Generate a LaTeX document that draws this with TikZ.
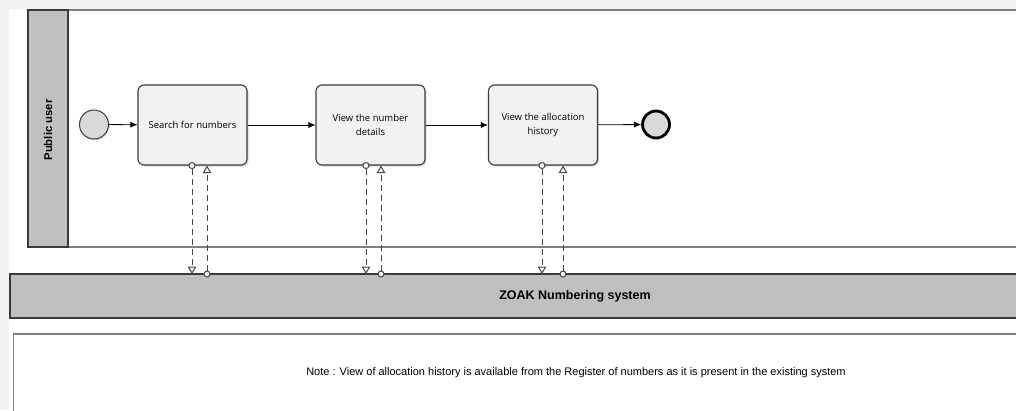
\documentclass[tikz,border=0pt]{standalone}
\usepackage{fontspec}
\setmainfont{Liberation Sans}
\newfontfamily\taskfont{Open Sans}
\usetikzlibrary{arrows.meta,shadows}

\definecolor{pagegray}{HTML}{F2F2F2}
\definecolor{lanegray}{HTML}{BFBFBF}
\definecolor{taskfill}{HTML}{F2F2F2}
\definecolor{eventfill}{HTML}{D9D9D9}
\definecolor{darkline}{HTML}{3A3A3A}
\definecolor{midline}{HTML}{7F7F7F}
\definecolor{msgline}{HTML}{454545}

\tikzset{
  task/.style={rectangle, rounded corners=6pt, draw=darkline, line width=1.1pt,
    fill=taskfill, minimum width=109pt, minimum height=80pt, align=center,
    font=\taskfont\fontsize{9.5}{14}\selectfont, inner sep=2pt,
    drop shadow={shadow xshift=1.5pt, shadow yshift=-1.5pt, opacity=0.3}},
  startevent/.style={circle, draw=darkline, line width=1pt, fill=eventfill,
    minimum size=29pt, inner sep=0pt,
    drop shadow={shadow xshift=1.2pt, shadow yshift=-1.2pt, opacity=0.3}},
  endevent/.style={circle, draw=black, line width=2.8pt, fill=eventfill,
    minimum size=27pt, inner sep=0pt,
    drop shadow={shadow xshift=1.2pt, shadow yshift=-1.2pt, opacity=0.3}},
  seqflow/.style={-{Latex[length=7pt,width=6pt]}, line width=0.8pt, black},
  msgflow/.style={draw=msgline, line width=1pt, dash pattern=on 6pt off 4pt,
    shorten <=-3.5pt,
    {Circle[open,length=7pt,width=7pt,fill=white]}-{Triangle[open,length=7.5pt,width=8.5pt,fill=white]}},
}

\begin{document}
\begin{tikzpicture}[x=1pt,y=-1pt]
  \useasboundingbox (0,0) rectangle (1016,410);
  % page background
  \fill[pagegray] (0,0) rectangle (1016,410);
  \fill[white] (9,9) rectangle (1016,410);

  % pool: Public user
  \draw[midline, line width=1.4pt] (28,10) -- (1020,10);
  \draw[midline, line width=1.2pt] (68,247) -- (1020,247);
  \draw[darkline, line width=1.4pt, fill=lanegray] (28,10) rectangle (68,247);
  \node[rotate=90, font=\bfseries\fontsize{11.3}{13}\selectfont] (lanelabel) at (48,130) {Public user};

  % pool: ZOAK Numbering system
  \draw[darkline, line width=1.4pt, fill=lanegray] (10,274) rectangle (1022,318);
  \node[font=\bfseries\fontsize{12.5}{15}\selectfont] (zoak) at (575,296) {ZOAK Numbering system};

  % note box
  \draw[midline, line width=1.4pt, fill=white] (13.5,420) -- (13.5,334) -- (1022,334);
  \node[font=\fontsize{11}{13}\selectfont] (note) at (576,373)
    {Note : View of allocation history is available from the Register of numbers as it is present in the existing system};

  % process
  \node[startevent] (start) at (94,124.5) {};
  \node[task] (t1) at (192.5,125) {Search for numbers};
  \node[task] (t2) at (370.5,125) {View the number\\details};
  \node[task] (t3) at (543,125) {View the allocation\\history};
  \node[endevent] (end) at (656,124.5) {};

  \draw[seqflow] (start) -- (t1);
  \draw[seqflow] (t1) -- (t2);
  \draw[seqflow] (t2) -- (t3);
  \draw[seqflow] (t3) -- (end);

  % message flow end points on the system pool
  \coordinate (s1a) at (192,274);
  \coordinate (s1b) at (207,274);
  \coordinate (s2a) at (366,274);
  \coordinate (s2b) at (381,274);
  \coordinate (s3a) at (542,274);
  \coordinate (s3b) at (563,274);

  % message flows
  \draw[msgflow] (t1.south -| s1a) -- (s1a);
  \draw[msgflow] (s1b) -- (t1.south -| s1b);
  \draw[msgflow] (t2.south -| s2a) -- (s2a);
  \draw[msgflow] (s2b) -- (t2.south -| s2b);
  \draw[msgflow] (t3.south -| s3a) -- (s3a);
  \draw[msgflow] (s3b) -- (t3.south -| s3b);
\end{tikzpicture}
\end{document}
